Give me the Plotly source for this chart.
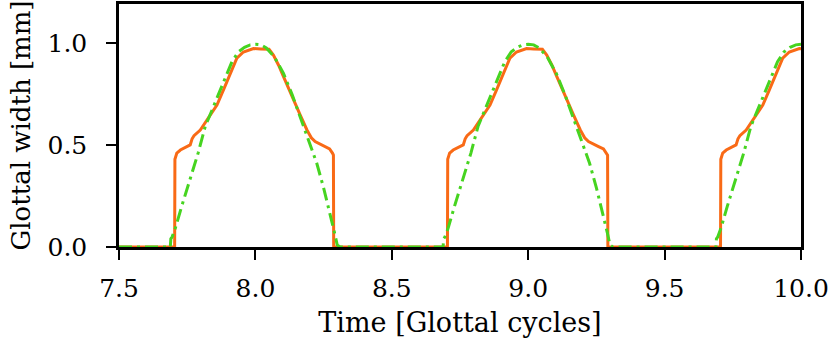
import plotly.graph_objects as go

# Orange (solid) glottal width: three cycles
orange_x = [7.50, 7.704, 7.705, 7.712, 7.725, 7.745, 7.761, 7.768, 7.775, 7.798, 7.828, 7.859, 7.883,
            7.908, 7.932, 7.956, 7.975, 7.993, 8.02, 8.05, 8.066, 8.085, 8.103, 8.134, 8.164, 8.189,
            8.205, 8.219, 8.238, 8.256, 8.272, 8.283, 8.286, 8.287,
            8.704, 8.705, 8.712, 8.725, 8.745, 8.762, 8.769, 8.776, 8.799, 8.829, 8.860, 8.884,
            8.909, 8.933, 8.957, 8.976, 8.994, 9.02, 9.052, 9.068, 9.087, 9.105, 9.136, 9.166, 9.191,
            9.207, 9.221, 9.240, 9.258, 9.276, 9.288, 9.291, 9.292,
            9.705, 9.706, 9.713, 9.726, 9.746, 9.762, 9.769, 9.776, 9.799, 9.829, 9.860, 9.884,
            9.909, 9.933, 9.957, 9.976, 9.994, 10.0]
orange_y = [0.0, 0.0, 0.43, 0.46, 0.475, 0.49, 0.50, 0.53, 0.545, 0.573, 0.63, 0.695, 0.769,
            0.85, 0.925, 0.955, 0.965, 0.972, 0.970, 0.968, 0.94, 0.89, 0.834, 0.736, 0.647, 0.573,
            0.535, 0.516, 0.502, 0.492, 0.48, 0.459, 0.45, 0.0,
            0.0, 0.43, 0.46, 0.475, 0.49, 0.50, 0.53, 0.545, 0.573, 0.63, 0.695, 0.769,
            0.85, 0.925, 0.955, 0.965, 0.972, 0.970, 0.968, 0.94, 0.89, 0.834, 0.736, 0.647, 0.573,
            0.535, 0.516, 0.502, 0.492, 0.48, 0.459, 0.45, 0.0,
            0.0, 0.43, 0.46, 0.475, 0.49, 0.50, 0.53, 0.545, 0.573, 0.63, 0.695, 0.769,
            0.85, 0.925, 0.955, 0.965, 0.972, 0.971]

# Green (dash-dot) model glottal width: three cycles
green_x = [7.50, 7.688, 7.690, 7.695, 7.700, 7.706, 7.730, 7.760, 7.790, 7.816, 7.840, 7.865, 7.890,
           7.914, 7.938, 7.960, 7.981, 8.000, 8.020, 8.040, 8.070, 8.103, 8.135, 8.164, 8.195,
           8.225, 8.250, 8.274, 8.290, 8.300, 8.310,
           8.688, 8.690, 8.695, 8.700, 8.706, 8.730, 8.760, 8.790, 8.816, 8.840, 8.865, 8.890,
           8.914, 8.938, 8.960, 8.981, 9.000, 9.020, 9.040, 9.070, 9.103, 9.135, 9.164, 9.195,
           9.225, 9.250, 9.274, 9.290, 9.300, 9.310,
           9.688, 9.690, 9.695, 9.700, 9.706, 9.730, 9.760, 9.790, 9.816, 9.840, 9.865, 9.890,
           9.914, 9.938, 9.960, 9.981, 10.0]
green_y = [0.0, 0.0, 0.04, 0.05, 0.07, 0.09, 0.20, 0.33, 0.46, 0.59, 0.67, 0.75, 0.83,
           0.907, 0.956, 0.978, 0.990, 0.993, 0.990, 0.975, 0.93, 0.85, 0.745, 0.638, 0.525,
           0.41, 0.29, 0.166, 0.07, 0.01, 0.0,
           0.0, 0.04, 0.05, 0.07, 0.09, 0.20, 0.33, 0.46, 0.59, 0.67, 0.75, 0.83,
           0.907, 0.956, 0.978, 0.990, 0.993, 0.990, 0.975, 0.93, 0.85, 0.745, 0.638, 0.525,
           0.41, 0.29, 0.166, 0.07, 0.01, 0.0,
           0.0, 0.04, 0.05, 0.07, 0.09, 0.20, 0.33, 0.46, 0.59, 0.67, 0.75, 0.83,
           0.907, 0.956, 0.978, 0.990, 0.993]

x_ticks = [7.5, 8.0, 8.5, 9.0, 9.5, 10.0]
x_tick_labels = ["7.5", "8.0", "8.5", "9.0", "9.5", "10.0"]
y_ticks = [0.0, 0.5, 1.0]
y_tick_labels = ["0.0", "0.5", "1.0"]

FONT = "DejaVu Serif"

fig = go.Figure()
fig.add_trace(go.Scatter(x=orange_x, y=orange_y, mode="lines",
                         line=dict(color="#F96A16", width=3), showlegend=False))
fig.add_trace(go.Scatter(x=green_x, y=green_y, mode="lines",
                         line=dict(color="#46D420", width=3, dash="13px,5px,3px,5px"),
                         showlegend=False))

axis_common = dict(showline=True, mirror=True, linecolor="black", linewidth=2.5,
                   ticks="outside", ticklen=10, tickwidth=2, tickcolor="black",
                   showgrid=False, zeroline=False, automargin=False,
                   tickfont=dict(family=FONT, size=25, color="black"))

fig.update_xaxes(range=[7.5, 10.0], tickvals=x_ticks, ticktext=x_tick_labels,
                 ticklabelstandoff=7,
                 title=dict(text="Time [Glottal cycles]", font=dict(family=FONT, size=27, color="black"),
                            standoff=12),
                 **axis_common)
fig.update_yaxes(range=[0, 1.19], tickvals=y_ticks, ticktext=y_tick_labels,
                 ticklabelstandoff=14,
                 title=dict(text="Glottal width [mm]", font=dict(family=FONT, size=26, color="black"),
                            standoff=10),
                 **axis_common)

fig.update_layout(width=829, height=346, margin=dict(l=119, r=28, t=4, b=99),
                  plot_bgcolor="white", paper_bgcolor="white")

fig.write_html("out.html", config={"displayModeBar": False},
               post_script="document.body.style.margin='0';")
